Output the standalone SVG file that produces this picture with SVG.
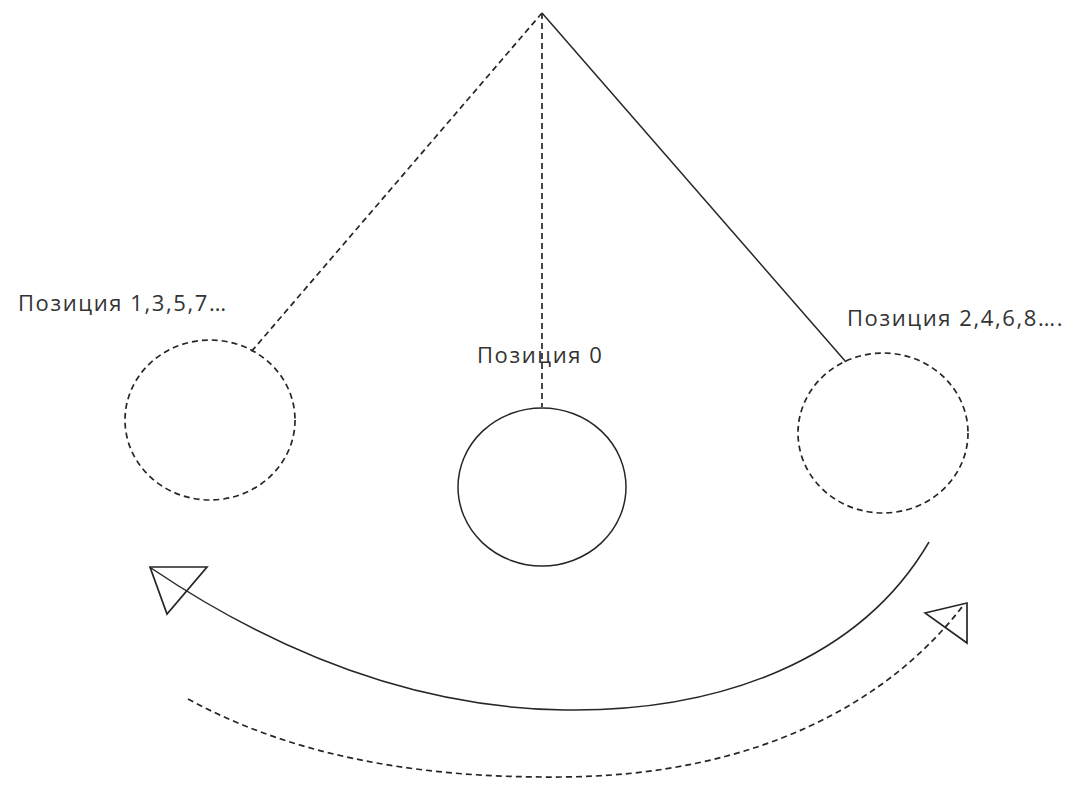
<svg xmlns="http://www.w3.org/2000/svg" width="1078" height="811" viewBox="0 0 1078 811">
  <style>
    .solid { fill: none; stroke: #262626; stroke-width: 1.5; }
    .dash { fill: none; stroke: #262626; stroke-width: 1.7; stroke-dasharray: 6 4; }
    .head { fill: none; stroke: #262626; stroke-width: 1.7; stroke-linejoin: miter; }
    .label { font-family: "Open Sans", "Noto Sans", "DejaVu Sans", sans-serif; font-size: 22px; letter-spacing: 1.6px; fill: #333; }
  </style>
  <rect width="1078" height="811" fill="#ffffff"/>

  <!-- pendulum strings from the pivot -->
  <g id="connectors">
    <line class="dash" x1="542" y1="13" x2="251" y2="352"/>
    <line class="dash" x1="542" y1="13" x2="542" y2="407"/>
    <line class="solid" x1="542" y1="13" x2="846" y2="362"/>
    <!-- swing arrows -->
    <path class="solid" d="M929,542 C860,660 720,712 565,710 C420,708 280,655 151,568"/>
    <polygon class="head" points="150,567 207,567 167,614"/>
    <path class="dash" d="M188,699 C300,760 430,778 560,777 C760,776 890,700 962,607"/>
    <polygon class="head" points="925,613 967,603 967,643"/>
  </g>

  <g id="pos-odd">
    <ellipse class="dash" cx="210" cy="420" rx="85" ry="80"/>
    <text class="label" x="18" y="311">Позиция 1,3,5,7…</text>
  </g>

  <g id="pos-zero">
    <ellipse class="solid" cx="542" cy="487" rx="84" ry="79"/>
    <text class="label" x="477" y="363">Позиция 0</text>
  </g>

  <g id="pos-even">
    <ellipse class="dash" cx="883" cy="433" rx="85" ry="80"/>
    <text class="label" x="847" y="326">Позиция 2,4,6,8….</text>
  </g>
</svg>
